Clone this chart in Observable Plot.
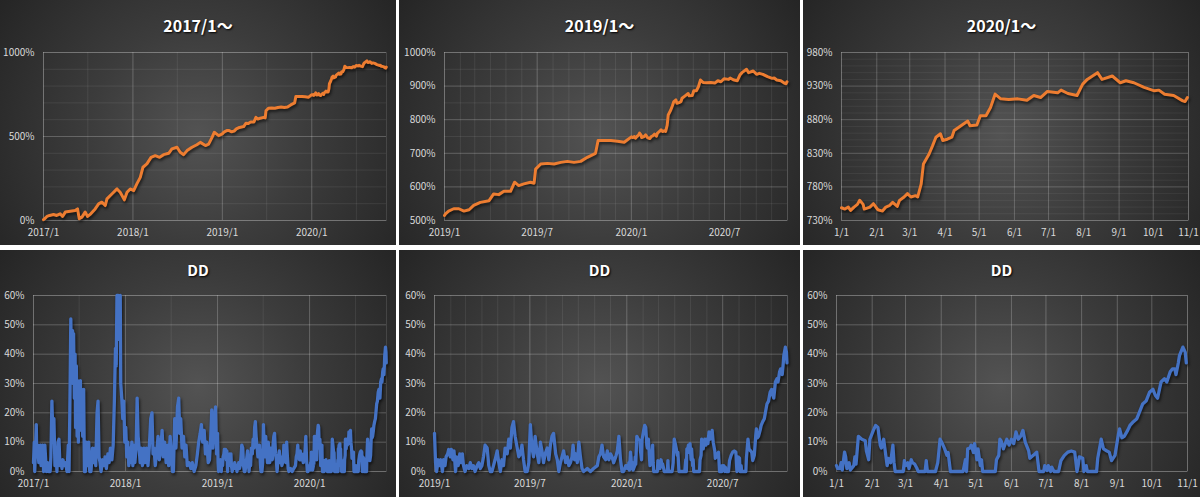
<!DOCTYPE html>
<html><head><meta charset="utf-8">
<script src="https://cdn.jsdelivr.net/npm/d3@7"></script>
<script src="https://cdn.jsdelivr.net/npm/@observablehq/plot@0.6"></script>
<style>
html,body{margin:0;padding:0;background:#fff;}
#grid{display:grid;grid-template-columns:396px 401px 397px;grid-template-rows:245px 247px;column-gap:3px;row-gap:5px;width:1200px;height:497px;}
.panel{position:relative;overflow:hidden;background:radial-gradient(circle farthest-corner at 50% 55%, #535353 0%, #3c3c3c 45%, #252525 100%);}
.title{position:absolute;left:0;right:0;text-align:center;color:#fff;font-family:"Noto Sans CJK JP","Noto Sans",sans-serif;font-weight:bold;text-shadow:1px 1px 2px #000;}
.panel svg{position:absolute;left:0;}
svg g[aria-label="line"]{filter:drop-shadow(1px 2px 1.5px rgba(0,0,0,0.65));}
</style></head>
<body><div id="grid"></div>
<script>
// ---- data ----
const panelTitles = ["2017/1～", "2019/1～", "2020/1～", "DD", "DD", "DD"];

const equity2017_18 = [
["2017-01-01",5],["2017-01-05",10],["2017-01-15",24],["2017-01-26",30],["2017-02-11",36],["2017-02-24",30],
["2017-03-10",40],["2017-03-20",24],["2017-03-31",50],["2017-04-20",55],["2017-05-10",59],["2017-05-20",69],
["2017-05-27",10],["2017-06-07",20],["2017-06-20",50],["2017-06-30",24],["2017-07-13",40],["2017-07-31",69],
["2017-08-14",99],["2017-08-27",109],["2017-09-10",89],["2017-09-17",129],["2017-10-07",158],["2017-10-28",188],
["2017-11-10",168],["2017-11-27",123],["2017-12-08",168],["2017-12-21",188],["2018-01-04",178],["2018-01-17",218],
["2018-01-31",257],["2018-02-11",317],["2018-02-27",337],["2018-03-16",376],["2018-04-02",386],["2018-04-20",376],
["2018-05-06",392],["2018-05-27",400],["2018-06-09",426],["2018-06-30",436],["2018-07-13",406],["2018-07-27",392],
["2018-08-10",416],["2018-08-30",436],["2018-09-19",451],["2018-10-03",465],["2018-10-24",446],["2018-11-06",455],
["2018-11-20",495],["2018-11-29",525],["2018-12-17",505]
];
const equity2019 = [
["2019-01-01",515],["2019-01-03",520],["2019-01-09",528],["2019-01-19",535],["2019-01-29",535],["2019-02-08",528],
["2019-02-18",532],["2019-02-27",545],["2019-03-12",554],["2019-03-29",559],["2019-04-07",579],["2019-04-17",577],
["2019-04-27",587],["2019-05-10",587],["2019-05-18",614],["2019-05-26",604],["2019-06-05",609],["2019-06-18",614],
["2019-06-25",611],["2019-06-28",653],["2019-07-08",668],["2019-07-21",670],["2019-08-03",668],["2019-08-16",673],
["2019-08-29",676],["2019-09-11",673],["2019-09-24",676],["2019-10-07",688],["2019-10-23",700],["2019-10-28",738],
["2019-11-09",738],["2019-11-22",738],["2019-12-05",736],["2019-12-18",733]
];
const equity2020 = [
["2020-01-01",749],["2020-01-04",747],["2020-01-07",750],["2020-01-09",745],["2020-01-12",750],["2020-01-15",754],
["2020-01-17",760],["2020-01-20",754],["2020-01-21",747],["2020-01-26",750],["2020-01-29",755],["2020-02-02",746],
["2020-02-06",744],["2020-02-09",750],["2020-02-12",752],["2020-02-15",757],["2020-02-19",751],["2020-02-21",760],
["2020-02-25",765],["2020-02-28",770],["2020-03-02",765],["2020-03-06",767],["2020-03-08",765],["2020-03-11",784],
["2020-03-13",814],["2020-03-18",829],["2020-03-21",841],["2020-03-24",854],["2020-03-28",859],["2020-03-30",849],
["2020-04-03",851],["2020-04-07",854],["2020-04-09",864],["2020-04-15",871],["2020-04-21",878],["2020-04-23",871],
["2020-04-29",872],["2020-05-02",886],["2020-05-07",886],["2020-05-11",898],["2020-05-15",918],["2020-05-20",911],
["2020-05-27",910],["2020-06-04",911],["2020-06-12",909],["2020-06-18",916],["2020-06-24",913],["2020-06-30",922],
["2020-07-09",920],["2020-07-12",924],["2020-07-18",919],["2020-07-26",916],["2020-07-31",933],["2020-08-04",940],
["2020-08-13",950],["2020-08-17",940],["2020-08-26",945],["2020-09-02",935],["2020-09-07",938],["2020-09-14",935],
["2020-09-23",928],["2020-10-02",923],["2020-10-06",924],["2020-10-11",918],["2020-10-19",916],["2020-10-27",908],
["2020-10-29",907],["2020-10-31",913]
];

const dd2017_18 = [
["2017-01-01",3],["2017-01-04",10],["2017-01-06",0],["2017-01-12",16],["2017-01-14",5],["2017-01-18",9],["2017-01-22",3],
["2017-01-28",9],["2017-01-31",2],["2017-02-06",9],["2017-02-10",0],["2017-02-15",9],["2017-02-21",0],["2017-02-26",3],
["2017-03-02",0],["2017-03-08",0],["2017-03-11",5],["2017-03-15",24],["2017-03-19",12],["2017-03-23",18],["2017-03-27",2],
["2017-04-01",5],["2017-04-04",0],["2017-04-08",10],["2017-04-12",11],["2017-04-16",2],["2017-04-20",4],["2017-04-24",1],
["2017-04-28",4],["2017-05-03",2],["2017-05-08",3],["2017-05-14",0],["2017-05-19",9],["2017-05-22",0],["2017-05-25",20],
["2017-05-29",52],["2017-06-01",35],["2017-06-05",48],["2017-06-07",30],["2017-06-09",47],["2017-06-12",25],["2017-06-15",40],
["2017-06-17",15],["2017-06-20",36],["2017-06-23",12],["2017-06-25",31],["2017-06-28",10],["2017-07-01",30],["2017-07-03",14],
["2017-07-06",31],["2017-07-08",18],["2017-07-11",28],["2017-07-15",12],["2017-07-19",28],["2017-07-22",0],["2017-07-26",0],
["2017-07-30",10],["2017-08-04",2],["2017-08-08",10],["2017-08-12",0],["2017-08-17",0],["2017-08-23",8],["2017-08-28",3],
["2017-09-01",8],["2017-09-05",2],["2017-09-10",20],["2017-09-14",24],["2017-09-18",5],["2017-09-22",3],["2017-09-26",0],
["2017-10-02",4],["2017-10-07",2],["2017-10-12",5],["2017-10-17",1],["2017-10-23",6],["2017-10-28",3],["2017-11-02",8],
["2017-11-08",4],["2017-11-13",9],["2017-11-18",25],["2017-11-22",42],["2017-11-25",36],["2017-11-28",60],["2017-12-03",60],
["2017-12-07",45],["2017-12-11",60],["2017-12-13",30],["2017-12-17",25],["2017-12-21",18],["2017-12-25",24],["2017-12-29",10],
["2018-01-02",15],["2018-01-06",5],["2018-01-10",10],["2018-01-14",2],["2018-01-18",8],["2018-01-22",3],["2018-01-26",10],
["2018-01-30",2],["2018-02-03",9],["2018-02-07",3],["2018-02-12",8],["2018-02-16",25],["2018-02-20",12],["2018-02-24",8],
["2018-02-28",3],["2018-03-04",8],["2018-03-09",2],["2018-03-15",8],["2018-03-20",3],["2018-03-25",8],["2018-03-31",2],
["2018-04-05",8],["2018-04-11",18],["2018-04-16",20],["2018-04-20",6],["2018-04-24",8],["2018-04-29",2],["2018-05-05",7],
["2018-05-10",12],["2018-05-15",4],["2018-05-20",7],["2018-05-26",14],["2018-05-31",5],["2018-06-05",10],["2018-06-11",3],
["2018-06-16",9],["2018-06-21",2],["2018-06-27",12],["2018-07-02",5],["2018-07-06",0],["2018-07-10",0],["2018-07-15",18],
["2018-07-20",8],["2018-07-26",22],["2018-07-31",25],["2018-08-04",13],["2018-08-08",18],["2018-08-13",8],["2018-08-19",12],
["2018-08-24",5],["2018-08-29",9],["2018-09-03",2],["2018-09-10",3],["2018-09-17",1],["2018-09-23",3],["2018-09-30",0],
["2018-10-07",2],["2018-10-13",6],["2018-10-18",10],["2018-10-24",13],["2018-10-29",16],["2018-11-03",10],["2018-11-09",14],
["2018-11-14",6],["2018-11-19",10],["2018-11-25",3],["2018-11-30",4],["2018-12-05",12],["2018-12-09",21],["2018-12-13",8],
["2018-12-19",17],["2018-12-24",22],["2018-12-28",6]
];
const dd2019 = [
["2019-01-01",13],["2019-01-03",3],["2019-01-05",0],["2019-01-08",4],["2019-01-11",2],["2019-01-13",4],["2019-01-16",0],
["2019-01-18",4],["2019-01-21",2],["2019-01-23",5],["2019-01-26",6],["2019-01-28",7.5],["2019-01-31",5],["2019-02-02",7.5],
["2019-02-05",4],["2019-02-07",7],["2019-02-10",0],["2019-02-12",5],["2019-02-15",2],["2019-02-18",6],["2019-02-20",3],
["2019-02-23",6],["2019-02-25",2],["2019-02-28",0],["2019-03-03",2],["2019-03-07",1],["2019-03-10",3],["2019-03-13",1],
["2019-03-16",2],["2019-03-19",0],["2019-03-23",2],["2019-03-26",3],["2019-03-29",1],["2019-04-01",2],["2019-04-04",5],
["2019-04-07",9],["2019-04-11",8],["2019-04-14",2],["2019-04-17",0],["2019-04-20",0],["2019-04-23",2],["2019-04-26",4],
["2019-04-30",7],["2019-05-03",3],["2019-05-06",0],["2019-05-09",4],["2019-05-12",2],["2019-05-15",8],["2019-05-19",6],
["2019-05-22",11],["2019-05-25",8],["2019-05-28",15],["2019-05-31",17],["2019-06-03",12],["2019-06-07",8],["2019-06-10",5],
["2019-06-13",6],["2019-06-16",9],["2019-06-19",4],["2019-06-22",0],["2019-06-26",0],["2019-06-29",3],["2019-07-02",16],
["2019-07-05",8],["2019-07-08",5],["2019-07-11",12],["2019-07-15",6],["2019-07-18",3],["2019-07-21",10],["2019-07-24",7],
["2019-07-27",3],["2019-07-30",6],["2019-08-03",8],["2019-08-06",4],["2019-08-09",9],["2019-08-12",12],["2019-08-15",13],
["2019-08-19",6],["2019-08-22",4],["2019-08-25",0],["2019-08-28",3],["2019-08-31",5],["2019-09-03",7],["2019-09-07",3],
["2019-09-10",5],["2019-09-13",2],["2019-09-16",3],["2019-09-19",5],["2019-09-21",9],["2019-09-24",4],["2019-09-26",6],
["2019-09-29",3],["2019-10-02",10],["2019-10-05",5],["2019-10-08",1],["2019-10-11",0],["2019-10-18",1],["2019-10-24",0],
["2019-10-30",1],["2019-11-06",2],["2019-11-09",5],["2019-11-12",6],["2019-11-15",9],["2019-11-18",5],["2019-11-22",4],
["2019-11-25",7],["2019-11-28",4],["2019-12-01",6],["2019-12-04",5],["2019-12-07",3],["2019-12-11",5],["2019-12-14",7],
["2019-12-17",12],["2019-12-20",4],["2019-12-23",0],["2019-12-26",0],["2019-12-30",2]
];
const dd2020 = [
["2020-01-01",2],["2020-01-02",1],["2020-01-04",1],["2020-01-05",3],["2020-01-06",0.5],["2020-01-08",6.6],["2020-01-09",5],
["2020-01-10",1],["2020-01-12",3],["2020-01-13",0.5],["2020-01-16",2],["2020-01-17",5],["2020-01-18",2.5],["2020-01-20",12],
["2020-01-23",11],["2020-01-26",10.5],["2020-01-27",7],["2020-01-29",4],["2020-01-30",11],["2020-02-02",14],["2020-02-04",15.7],
["2020-02-06",15],["2020-02-08",9],["2020-02-09",8],["2020-02-11",11],["2020-02-12",8],["2020-02-14",2],["2020-02-15",4.5],
["2020-02-17",3],["2020-02-19",9],["2020-02-20",3],["2020-02-21",0],["2020-02-28",0],["2020-02-29",3.7],["2020-03-01",2],
["2020-03-03",3],["2020-03-04",1],["2020-03-06",4],["2020-03-07",3],["2020-03-09",2.5],["2020-03-11",1],["2020-03-12",0],
["2020-03-18",0],["2020-03-19",3.7],["2020-03-20",0],["2020-03-27",0],["2020-03-29",3],["2020-03-31",11],["2020-04-02",9.5],
["2020-04-04",7.7],["2020-04-06",5.5],["2020-04-07",6.5],["2020-04-09",0],["2020-04-20",0],["2020-04-22",4],["2020-04-23",0],
["2020-04-24",7.7],["2020-04-26",8],["2020-04-27",9],["2020-04-29",6.5],["2020-04-30",9.5],["2020-05-02",4],["2020-05-03",7.7],
["2020-05-05",2],["2020-05-06",4],["2020-05-07",0],["2020-05-18",0],["2020-05-19",4],["2020-05-21",5.5],["2020-05-22",11],
["2020-05-23",10.5],["2020-05-25",7.7],["2020-05-28",11],["2020-05-30",9],["2020-06-01",11],["2020-06-03",9.5],["2020-06-05",13.5],
["2020-06-07",11],["2020-06-09",12],["2020-06-11",14],["2020-06-13",10],["2020-06-16",7],["2020-06-17",4.5],["2020-06-20",5.5],
["2020-06-23",6.6],["2020-06-25",0],["2020-06-29",0],["2020-06-30",2],["2020-07-02",0.3],["2020-07-03",2],["2020-07-05",0],
["2020-07-06",1.5],["2020-07-08",0],["2020-07-12",0],["2020-07-14",3.7],["2020-07-17",5.5],["2020-07-20",6.6],["2020-07-23",7],
["2020-07-26",6.6],["2020-07-28",0],["2020-07-29",2],["2020-07-30",5],["2020-08-02",4.5],["2020-08-03",0],["2020-08-05",2],
["2020-08-06",0],["2020-08-14",0],["2020-08-15",4.5],["2020-08-18",11],["2020-08-20",7.7],["2020-08-23",7],["2020-08-25",6.6],
["2020-08-27",3.7],["2020-08-30",5.5],["2020-09-02",12.8],["2020-09-03",14.5],["2020-09-05",11.5],["2020-09-07",12],["2020-09-10",14],
["2020-09-12",15.7],["2020-09-15",17],["2020-09-18",18],["2020-09-20",20],["2020-09-23",23],["2020-09-26",24],["2020-09-29",27],
["2020-10-02",28],["2020-10-04",26],["2020-10-06",25],["2020-10-09",30.5],["2020-10-12",31.6],["2020-10-14",30.5],["2020-10-17",34],
["2020-10-19",35],["2020-10-21",35],["2020-10-22",33],["2020-10-24",37],["2020-10-25",39.5],["2020-10-28",42.4],["2020-10-30",40.7],
["2020-10-31",37]
];

const fullRange = ["2017-01-01", "2020-11-01"];
const midRange = ["2019-01-01", "2020-11-01"];
const shortRange = ["2020-01-01", "2020-11-01"];
const fullTicks = ["2017-01-01","2018-01-01","2019-01-01","2020-01-01"];
const midTicks = ["2019-01-01","2019-07-01","2020-01-01","2020-07-01"];
const shortTicks = ["2020-01-01","2020-02-01","2020-03-01","2020-04-01","2020-05-01","2020-06-01","2020-07-01","2020-08-01","2020-09-01","2020-10-01","2020-11-01"];
const eqTicksFull = [0, 500, 1000];
const eqTicksMid = [500, 600, 700, 800, 900, 1000];
const eqTicksShort = [730, 780, 830, 880, 930, 980];
const ddTicks = [0, 10, 20, 30, 40, 50, 60];

// ---- build ----
const toRows = arr => arr.map(([d, v]) => ({date: new Date(d), value: v}));
const equity = toRows([...equity2017_18, ...equity2019, ...equity2020]);
const dd = toRows([...dd2017_18, ...dd2019, ...dd2020]);
const D = s => new Date(s);
const fmtYM = d => `${d.getUTCFullYear()}/${d.getUTCMonth() + 1}`;
const fmtMD = d => `${d.getUTCMonth() + 1}/${d.getUTCDate()}`;

const ORANGE = "#ED7D31", BLUE = "#4472C4";
const TOP = {svgTop: 40, height: 205, marginTop: 12, marginBottom: 25, titleTop: 13, titleSize: 16};
const BOT = {svgTop: 35, height: 212, marginTop: 10, marginBottom: 26, titleTop: 9, titleSize: 15};

const panels = [
  {row: TOP, width: 396, ml: 43, mr: 10, range: fullRange, ticks: fullTicks, fmt: fmtYM, xMinor: d3.utcMonth.every(6), yDomain: [0, 1000], yTicks: eqTicksFull, yMinorStep: 100, minorOp: 0.08, data: equity, color: ORANGE, sw: 3},
  {row: TOP, width: 401, ml: 45, mr: 13, range: midRange, ticks: midTicks, fmt: fmtYM, xMinor: d3.utcMonth, yDomain: [500, 1000], yTicks: eqTicksMid, yMinorStep: 50, minorOp: 0.08, data: equity, color: ORANGE, sw: 3},
  {row: TOP, width: 397, ml: 38, mr: 12, range: shortRange, ticks: shortTicks, fmt: fmtMD, xMinor: d3.utcMonth, yDomain: [730, 980], yTicks: eqTicksShort, yMinorStep: 10, minorOp: 0.06, data: equity, color: ORANGE, sw: 3},
  {row: BOT, width: 396, ml: 33, mr: 10, range: fullRange, ticks: fullTicks, fmt: fmtYM, xMinor: d3.utcMonth.every(6), yDomain: [0, 60], yTicks: ddTicks, yMinorStep: 10, minorOp: 0.08, data: dd, color: BLUE, sw: 3.3},
  {row: BOT, width: 401, ml: 35, mr: 13, range: midRange, ticks: midTicks, fmt: fmtYM, xMinor: d3.utcMonth, yDomain: [0, 60], yTicks: ddTicks, yMinorStep: 10, minorOp: 0.08, data: dd, color: BLUE, sw: 3.3},
  {row: BOT, width: 397, ml: 33, mr: 13, range: shortRange, ticks: shortTicks, fmt: fmtMD, xMinor: d3.utcMonth, yDomain: [0, 60], yTicks: ddTicks, yMinorStep: 10, minorOp: 0.08, data: dd, color: BLUE, sw: 3.3}
];

const grid = document.getElementById("grid");
panels.forEach((p, i) => {
  const div = document.createElement("div");
  div.className = "panel";
  const t = document.createElement("div");
  t.className = "title";
  t.textContent = panelTitles[i];
  t.style.top = p.row.titleTop + "px";
  t.style.fontSize = p.row.titleSize + "px";
  div.appendChild(t);

  const x0 = D(p.range[0]), x1 = D(p.range[1]);
  const rows = p.data.filter(r => r.date >= x0 && r.date <= x1);
  const xMinor = p.xMinor.range(x0, new Date(+x1 + 1));
  const xMajor = p.ticks.map(D);
  const yMinor = d3.range(p.yDomain[0], p.yDomain[1] + 0.001, p.yMinorStep);

  const svg = Plot.plot({
    width: p.width, height: p.row.height,
    marginLeft: p.ml, marginRight: p.mr, marginTop: p.row.marginTop, marginBottom: p.row.marginBottom,
    style: {background: "transparent", color: "#d9d9d9", fontFamily: "'Noto Sans CJK JP','Noto Sans',sans-serif", fontSize: "10px", overflow: "visible"},
    x: {type: "utc", domain: [x0, x1], ticks: xMajor, tickFormat: p.fmt, tickSize: 0, tickPadding: 8, label: null},
    y: {domain: p.yDomain, ticks: p.yTicks, tickFormat: d => d + "%", tickSize: 0, tickPadding: 9, label: null},
    marks: [
      Plot.ruleX(xMinor, {stroke: "#ffffff", strokeOpacity: p.minorOp}),
      Plot.ruleY(yMinor, {stroke: "#ffffff", strokeOpacity: p.minorOp}),
      Plot.ruleX(xMajor, {stroke: "#ffffff", strokeOpacity: 0.16}),
      Plot.ruleY(p.yTicks, {stroke: "#ffffff", strokeOpacity: 0.16}),
      Plot.frame({stroke: "#ffffff", strokeOpacity: 0.12}),
      Plot.line(rows, {x: "date", y: "value", stroke: p.color, strokeWidth: p.sw, strokeLinejoin: "round"})
    ]
  });
  svg.style.top = p.row.svgTop + "px";
  div.appendChild(svg);
  grid.appendChild(div);
});
</script>
</body></html>
